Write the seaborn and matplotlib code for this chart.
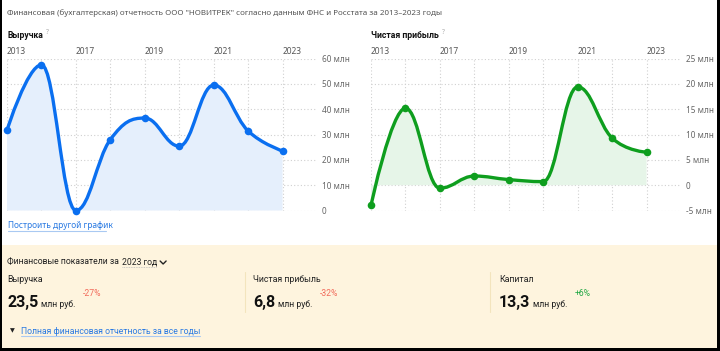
import matplotlib
matplotlib.use("Agg")
import matplotlib.pyplot as plt
import seaborn as sns
from matplotlib.path import Path
from matplotlib.patches import PathPatch, Rectangle

# chart data (in млн руб.)
years = ["2013", "2016", "2017", "2018", "2019", "2020", "2021", "2022", "2023"]
revenue = [31.7, 57.5, 0.0, 28.0, 36.5, 25.4, 49.5, 31.4, 23.5]
profit = [-4.0, 15.2, -0.6, 1.8, 1.1, 0.7, 19.4, 9.3, 6.5]
rev_ticks = [0, 10, 20, 30, 40, 50, 60]
prof_ticks = [-5, 0, 5, 10, 15, 20, 25]

sns.set_theme(style="white")
plt.rcParams["font.family"] = ["Noto Sans", "DejaVu Sans"]
narrow = ["Roboto", "DejaVu Sans"]

W, H = 720, 351
fig = plt.figure(figsize=(W / 100, H / 100), dpi=100)
fig.patch.set_facecolor("white")
renderer = fig.canvas.get_renderer()


def fx(x):
    return x / W


def fy(y):
    return 1 - y / H


def right_px(t, gap=0):
    # right edge of a drawn text, in pixels, plus a gap
    return t.get_window_extent(renderer).x1 + gap


def spline(xs, ys, smoothing=1.5):
    # smooth curve through the points, same idea as the web chart's spline
    n = len(xs)
    lc = [(xs[i], ys[i]) for i in range(n)]
    rc = list(lc)
    for i in range(1, n - 1):
        px, py = xs[i], ys[i]
        lx, ly = xs[i - 1], ys[i - 1]
        nx, ny = xs[i + 1], ys[i + 1]
        lcx = (smoothing * px + lx) / (smoothing + 1)
        lcy = (smoothing * py + ly) / (smoothing + 1)
        rcx = (smoothing * px + nx) / (smoothing + 1)
        rcy = (smoothing * py + ny) / (smoothing + 1)
        corr = (rcy - lcy) * (rcx - px) / (rcx - lcx) + py - rcy
        lcy += corr
        rcy += corr
        if lcy > ly and lcy > py:
            lcy = max(ly, py)
            rcy = 2 * py - lcy
        elif lcy < ly and lcy < py:
            lcy = min(ly, py)
            rcy = 2 * py - lcy
        if rcy > ny and rcy > py:
            rcy = max(ny, py)
            lcy = 2 * py - rcy
        elif rcy < ny and rcy < py:
            rcy = min(ny, py)
            lcy = 2 * py - rcy
        lc[i] = (lcx, lcy)
        rc[i] = (rcx, rcy)
    verts = [(xs[0], ys[0])]
    codes = [Path.MOVETO]
    for i in range(1, n):
        verts += [rc[i - 1], lc[i], (xs[i], ys[i])]
        codes += [Path.CURVE4] * 3
    return verts, codes


def draw_chart(ax, values, ticks, color, fill):
    xs = list(range(len(values)))
    verts, codes = spline(xs, values)
    area = verts + [(xs[-1], 0), (xs[0], 0), (xs[0], values[0])]
    area_codes = codes + [Path.LINETO, Path.LINETO, Path.CLOSEPOLY]
    ax.add_patch(PathPatch(Path(area, area_codes), facecolor=fill,
                           edgecolor="none", zorder=1))
    ax.add_patch(PathPatch(Path(verts, codes), facecolor="none", edgecolor=color,
                           lw=2.4, zorder=3, clip_on=False, capstyle="round"))
    sns.scatterplot(x=xs, y=values, ax=ax, color=color, s=30, linewidth=0,
                    zorder=4, clip_on=False)
    ax.set_xlim(0, 9)
    ax.set_ylim(ticks[0], ticks[-1])
    ax.set_xticks(xs)
    ax.set_xticklabels([y if i % 2 == 0 else "" for i, y in enumerate(years)],
                       ha="left")
    ax.xaxis.tick_top()
    ax.set_yticks(ticks)
    ax.set_yticklabels([f"{t} млн" if t != 0 else "0" for t in ticks], ha="left")
    ax.yaxis.tick_right()
    ax.tick_params(axis="x", length=0, pad=2, labelsize=6.0, labelcolor="#555555")
    ax.tick_params(axis="y", length=0, pad=3.5, labelsize=5.9, labelcolor="#666666")
    ax.grid(True, linestyle=(0, (1, 2)), color="#d0d0d0", lw=0.8)
    ax.set_axisbelow(True)
    for s in ax.spines.values():
        s.set_visible(False)
    ax.set_facecolor("none")


top, bottom = 58.5, 210.5
ax1 = fig.add_axes([fx(7), fy(bottom), fx(310), (bottom - top) / H])
draw_chart(ax1, revenue, rev_ticks, "#0a6ff0", "#e5effc")
ax2 = fig.add_axes([fx(371), fy(bottom), fx(310), (bottom - top) / H])
draw_chart(ax2, profit, prof_ticks, "#0e9e1e", "#e6f5e8")

# header and chart titles
fig.text(fx(7), fy(13), 'Финансовая (бухгалтерская) отчетность ООО "НОВИТРЕК" согласно данным ФНС и Росстата за 2013–2023 годы',
         fontsize=5.75, color="#555555", va="center")
for x, title in [(7, "Выручка"), (371, "Чистая прибыль")]:
    t = fig.text(fx(x), fy(35), title, family=narrow, fontsize=6.2, fontweight="bold",
                 color="#111111", va="center")
    fig.text(fx(right_px(t, 3)), fy(32), "?", fontsize=4.8, color="#aaaaaa", va="center")
fig.text(fx(8), fy(226), "Построить другой график", fontsize=6.0, color="#2a7ae2", va="center")
fig.add_artist(plt.Line2D([fx(8), fx(106)], [fy(231), fy(231)], color="#a9c9f2", lw=0.8))

# bottom panel
fig.add_artist(Rectangle((fx(2), fy(348)), fx(715), (348 - 245) / H,
                         facecolor="#fef4de", edgecolor="none", zorder=0))
t = fig.text(fx(7), fy(262), "Финансовые показатели за", family=narrow, fontsize=6.2,
             color="#222222", va="center")
x_year = right_px(t, 3)
t = fig.text(fx(x_year), fy(262), "2023 год", family=narrow, fontsize=6.2,
             color="#222222", va="center")
x_end = right_px(t)
fig.add_artist(plt.Line2D([fx(x_year), fx(x_end)], [fy(267), fy(267)], color="#bbbbbb",
                          lw=0.6, linestyle=(0, (1, 1))))
fig.add_artist(plt.Line2D([fx(x_end + 3), fx(x_end + 6), fx(x_end + 9)],
                          [fy(261), fy(264), fy(261)], color="#222222", lw=1.0))

cols = [
    (7, "Выручка", "23,5", "-27%", "#f26b5b"),
    (253, "Чистая прибыль", "6,8", "-32%", "#f26b5b"),
    (499, "Капитал", "13,3", "+6%", "#22a845"),
]
for x, name, val, chg, ccol in cols:
    fig.text(fx(x), fy(280), name, family=narrow, fontsize=6.3, color="#222222", va="center")
    t = fig.text(fx(x), fy(307), val, family=narrow, fontsize=11.5, fontweight="bold",
                 color="#111111", va="baseline")
    t = fig.text(fx(right_px(t, 3)), fy(307), "млн руб.", family=narrow, fontsize=6.2,
                 color="#222222", va="baseline")
    fig.text(fx(right_px(t, 7)), fy(293), chg, family=narrow, fontsize=6.2,
             color=ccol, va="center")
for sx in [245, 490]:
    fig.add_artist(plt.Line2D([fx(sx), fx(sx)], [fy(272), fy(312)], color="#f3e4bd", lw=0.8))

fig.text(fx(12), fy(331), "▼", fontsize=4.5, color="#222222", va="center", ha="center")
t = fig.text(fx(21), fy(331), "Полная финансовая отчетность за все годы", family=narrow,
             fontsize=6.2, color="#2a7ae2", va="center")
fig.add_artist(plt.Line2D([fx(21), fx(right_px(t))], [fy(336), fy(336)],
                          color="#a9c9f2", lw=0.8))

# black frame on left, right and bottom edges
for x0, y0, w, h in [(0, 0, 2, 351), (717, 0, 3, 351), (0, 348, 720, 3)]:
    fig.add_artist(Rectangle((fx(x0), fy(y0 + h)), fx(w), h / H,
                             facecolor="black", edgecolor="none", zorder=5))

fig.savefig("out.png", dpi=100)
